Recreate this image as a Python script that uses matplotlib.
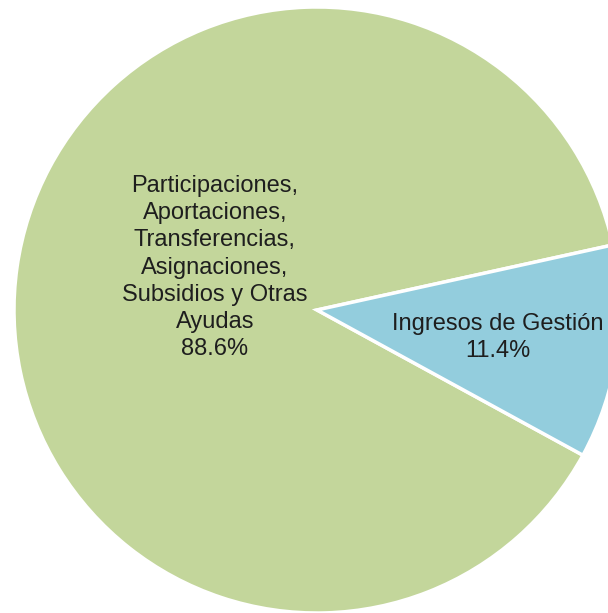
import matplotlib
matplotlib.use("Agg")
import matplotlib.pyplot as plt

categories = ["Participaciones,\nAportaciones,\nTransferencias,\nAsignaciones,\nSubsidios y Otras\nAyudas", "Ingresos de Gestión"]
values = [88.6, 11.4]
colors = ["#C3D69B", "#93CDDD"]

plt.rcParams['font.family'] = ['Liberation Sans', 'DejaVu Sans']

fig = plt.figure(figsize=(6.08, 6.13), dpi=100)
ax = fig.add_axes([0, 0, 1, 1])
wedges, _ = ax.pie(values, colors=colors, startangle=12.4, counterclock=True,
                   radius=1.0, center=(0, 0),
                   wedgeprops=dict(edgecolor="white", linewidth=2.5))

label_pos = [(-0.337, 0.14), (0.597, -0.092)]
for cat, v, (x, y) in zip(categories, values, label_pos):
    ax.text(x, y, f"{cat}\n{v:.1f}%", ha="center", va="center",
            fontsize=17, color="#1e1e1e", linespacing=1.30)

ax.set_xlim(-317/303, (608-317)/303)
ax.set_ylim(-(613-310)/303, 310/303)
ax.set_aspect('auto')
ax.axis('off')
fig.savefig("out.png", dpi=100, facecolor="white")
